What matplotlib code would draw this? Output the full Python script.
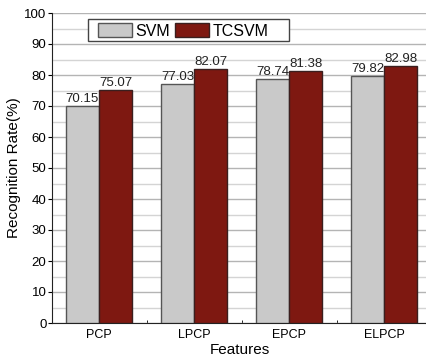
import numpy as np
import matplotlib.pyplot as plt
from matplotlib.patches import Rectangle
from matplotlib.ticker import MultipleLocator

features = ['PCP', 'LPCP', 'EPCP', 'ELPCP']
svm = [70.15, 77.03, 78.74, 79.82]
tcsvm = [75.07, 82.07, 81.38, 82.98]

plt.rcParams['font.family'] = ['Liberation Sans', 'DejaVu Sans']

W, H = 427, 358
fig = plt.figure(figsize=(W / 100, H / 100), dpi=100)
ax = fig.add_axes([52 / W, 35 / H, 1 - 52 / W, 310 / H])

x = np.arange(len(features))
w = 0.35
b1 = ax.bar(x - w / 2, svm, w, color='#c9c9c9', edgecolor='#555555',
            linewidth=1.0, label='SVM', zorder=3)
b2 = ax.bar(x + w / 2, tcsvm, w, color='#7e1811', edgecolor='#3a1f1f',
            linewidth=1.0, label='TCSVM', zorder=3)

# value labels on top of each bar
for bars, vals in ((b1, svm), (b2, tcsvm)):
    for rect, v in zip(bars, vals):
        ax.text(rect.get_x() + rect.get_width() / 2, v + 0.3, f'{v:.2f}',
                ha='center', va='bottom', fontsize=9.5, color='#222222')

ax.set_xlim(-0.495, 3.45)
ax.set_ylim(0, 100)
ax.yaxis.set_major_locator(MultipleLocator(10))
ax.yaxis.set_minor_locator(MultipleLocator(5))
ax.grid(axis='y', which='major', color='#b4b4b4', linewidth=1.0, zorder=0)
ax.grid(axis='y', which='minor', color='#d4d4d4', linewidth=1.0, zorder=0)
ax.set_axisbelow(True)

ax.set_xticks(x)
ax.set_xticklabels(features, fontsize=9)
ax.set_xticks(x[:-1] + 0.5, minor=True)
ax.tick_params(axis='x', which='major', length=0, pad=4)
ax.tick_params(axis='x', which='minor', direction='in', length=2)
ax.tick_params(axis='y', which='major', direction='out', length=3,
               labelsize=9.5, pad=1)
ax.tick_params(axis='y', which='minor', length=0)

for side in ('top', 'right'):
    ax.spines[side].set_visible(False)
ax.spines['left'].set_color('#222222')
ax.spines['bottom'].set_color('#222222')

ax.set_xlabel('Features', fontsize=11, labelpad=2)
ax.set_ylabel('Recognition Rate(%)', fontsize=11, labelpad=2)

# legend box: white frame with the two entries placed inside it
frame = Rectangle((88 / W, 1 - 41 / H), 201 / W, 22 / H,
                  transform=fig.transFigure, facecolor='white',
                  edgecolor='#444444', linewidth=1.0, zorder=4)
fig.add_artist(frame)
leg = fig.legend(handles=[b1, b2], loc='center left',
                 bbox_to_anchor=(98 / W, 1 - 31 / H), ncol=2, fontsize=11.5,
                 handlelength=2.1, handleheight=1.0, handletextpad=0.25,
                 columnspacing=0.3, borderpad=0, borderaxespad=0,
                 frameon=False)
leg.set_zorder(5)

fig.savefig('out.png', dpi=100)
